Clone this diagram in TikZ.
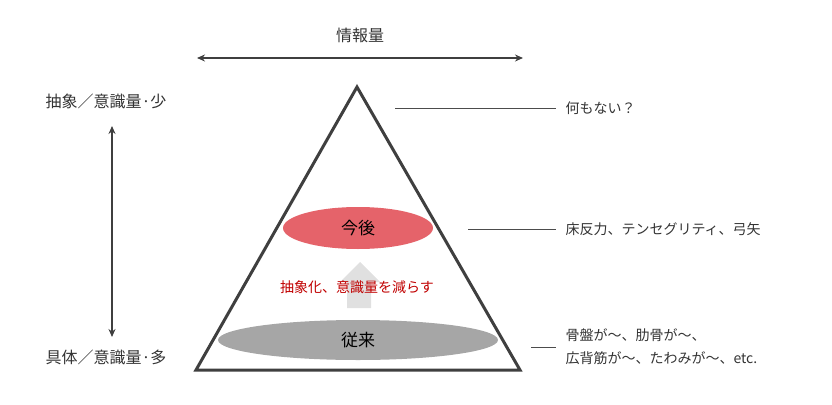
\documentclass[tikz,border=0pt]{standalone}
\usepackage{fontspec}
\setmainfont{Noto Sans CJK JP}
\usetikzlibrary{arrows.meta,shapes,calc}
\definecolor{edgegray}{HTML}{3F3F3F}
\definecolor{redfill}{HTML}{E5636A}
\definecolor{grayfill}{HTML}{A6A6A6}
\definecolor{redtext}{HTML}{C00000}
\tikzset{
  lbl/.style={font=\fontsize{14}{17}\selectfont, text=black!80},
  dbl/.style={{Stealth[length=8pt,width=7pt]}-{Stealth[length=8pt,width=7pt]}, line width=1.8pt, draw=edgegray},
  leader/.style={draw=black!70, line width=0.6pt}
}
\begin{document}
\begin{tikzpicture}[x=1pt,y=-1pt]
  \useasboundingbox (0,0) rectangle (832,404);
  % pyramid
  \coordinate (apex) at (357,87);
  \coordinate (bl) at (196,370);
  \coordinate (br) at (520,370);
  \draw[edgegray, line width=3pt, line join=miter] (apex) -- (br) -- (bl) -- cycle;
  % ellipses
  \node[ellipse, fill=grayfill, minimum width=280, minimum height=40, inner sep=0] (old) at (358,340) {};
  \node[font=\fontsize{17}{20}\selectfont] at (old) {従来};
  \node[ellipse, fill=redfill, minimum width=150, minimum height=42, inner sep=0] (new) at (358,228) {};
  \node[font=\fontsize{17}{20}\selectfont] at (new) {今後};
  % up arrow
  \fill[black!12] (347,308) -- (347,282) -- (340,282) -- (360,262) -- (380,282) -- (371,282) -- (371,308) -- cycle;
  \node[font=\fontsize{14}{17}\selectfont, text=redtext] (msg) at (357,287) {抽象化、意識量を減らす};
  % axes
  \coordinate (tl) at (197,58);
  \coordinate (tr) at (523,58);
  \draw[dbl] (tl) -- (tr);
  \node[lbl, font=\fontsize{16}{19}\selectfont] (info) at (360,35) {情報量};
  \coordinate (vt) at (112,126);
  \coordinate (vb) at (112,337);
  \draw[dbl] (vt) -- (vb);
  \node[lbl, font=\fontsize{16}{19}\selectfont] (abs) at (106,101) {抽象／意識量·少};
  \node[lbl, font=\fontsize{16}{19}\selectfont] (con) at (106,357) {具体／意識量·多};
  % right labels
  \coordinate (a1) at (395,108); \coordinate (a2) at (556,108);
  \draw[leader] (a1) -- (a2);
  \node[lbl, anchor=west] (l1) at (562,108) {何もない？};
  \coordinate (b1) at (468,229); \coordinate (b2) at (556,229);
  \draw[leader] (b1) -- (b2);
  \node[lbl, anchor=west] (l2) at (562,229) {床反力、テンセグリティ、弓矢};
  \coordinate (c1) at (531,347); \coordinate (c2) at (556,347);
  \draw[leader] (c1) -- (c2);
  \node[lbl, anchor=west, align=left, font=\fontsize{14}{23}\selectfont] (l3) at (562,347) {骨盤が〜、肋骨が〜、\\広背筋が〜、たわみが〜、etc.};
\end{tikzpicture}
\end{document}
